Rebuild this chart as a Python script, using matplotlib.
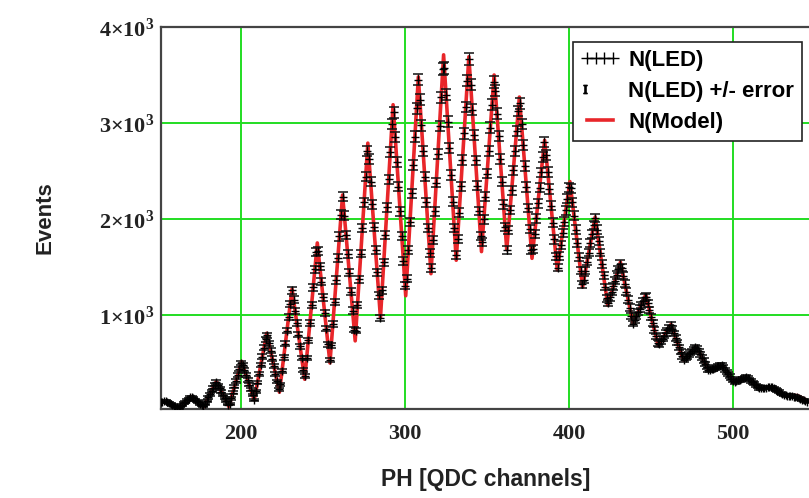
import matplotlib

matplotlib.use("Agg")
import matplotlib.pyplot as plt
import numpy as np
from matplotlib.legend_handler import HandlerBase
from matplotlib.lines import Line2D

# measured LED spectrum, one value per QDC channel starting at channel 151
first_channel = 151
led_counts = [
    90, 95, 100, 100, 91, 82, 73, 64, 55, 46,
    37, 30, 49, 64, 80, 95, 111, 127, 142, 143,
    130, 116, 102, 89, 75, 61, 48, 72, 106, 140,
    173, 207, 241, 275, 302, 268, 234, 201, 167, 133,
    99, 65, 69, 130, 191, 252, 313, 375, 436, 497,
    479, 427, 375, 323, 271, 219, 167, 115, 205, 295,
    386, 476, 566, 657, 747, 786, 706, 626, 546, 466,
    387, 307, 227, 279, 419, 558, 698, 837, 977, 1117,
    1256, 1160, 1038, 916, 794, 672, 550, 428, 367, 551,
    736, 920, 1105, 1289, 1474, 1658, 1669, 1507, 1344, 1182,
    1020, 857, 695, 533, 682, 909, 1136, 1364, 1591, 1818,
    2045, 2230, 2033, 1835, 1638, 1440, 1243, 1046, 848, 837,
    1105, 1372, 1640, 1907, 2175, 2442, 2710, 2625, 2388, 2152,
    1916, 1679, 1443, 1206, 970, 1258, 1547, 1835, 2123, 2412,
    2700, 2988, 3112, 2854, 2595, 2337, 2078, 1820, 1562, 1303,
    1378, 1674, 1970, 2266, 2562, 2858, 3154, 3450, 3240, 2974,
    2708, 2442, 2175, 1909, 1643, 1489, 1785, 2081, 2377, 2673,
    2969, 3266, 3562, 3571, 3293, 3015, 2737, 2459, 2181, 1903,
    1626, 1790, 2065, 2341, 2616, 2891, 3167, 3442, 3664, 3400,
    3137, 2873, 2610, 2346, 2082, 1819, 1756, 1995, 2234, 2473,
    2712, 2951, 3190, 3428, 3335, 3098, 2862, 2625, 2389, 2153,
    1916, 1680, 1887, 2093, 2300, 2506, 2713, 2919, 3126, 3205,
    2987, 2769, 2551, 2332, 2114, 1896, 1678, 1686, 1846, 2005,
    2165, 2325, 2485, 2644, 2804, 2662, 2487, 2312, 2136, 1961,
    1786, 1610, 1494, 1613, 1733, 1852, 1972, 2091, 2211, 2330,
    2319, 2176, 2033, 1890, 1747, 1604, 1461, 1319, 1366, 1461,
    1556, 1650, 1745, 1840, 1935, 2008, 1889, 1769, 1650, 1530,
    1411, 1291, 1172, 1123, 1182, 1240, 1299, 1357, 1416, 1474,
    1532, 1492, 1409, 1326, 1243, 1160, 1077, 993, 910, 949,
    988, 1027, 1066, 1105, 1144, 1183, 1189, 1120, 1052, 983,
    914, 845, 776, 708, 697, 726, 754, 783, 811, 840,
    869, 897, 857, 809, 761, 713, 665, 617, 569, 534,
    552, 570, 589, 607, 625, 643, 661, 654, 621, 589,
    556, 524, 491, 459, 426, 426, 434, 441, 449, 457,
    465, 473, 478, 454, 431, 408, 384, 361, 337, 314,
    303, 310, 317, 324, 332, 339, 346, 353, 344, 329,
    313, 297, 282, 266, 251, 235, 237, 239, 241, 243,
    245, 247, 249, 246, 235, 223, 211, 200, 188, 176,
    165, 165, 160, 158, 160, 155, 150, 148, 145, 135,
    125, 118, 110, 102, 95,
]

# fitted model, peak and valley nodes
model_ch = [
    151, 154.1, 161.8, 169.5, 177.2, 184.9, 192.6, 200.3, 208.0, 215.7,
    223.4, 231.1, 238.8, 246.5, 254.2, 261.9, 269.6, 277.3, 285.0, 292.7,
    300.4, 308.1, 315.8, 323.5, 331.2, 338.9, 346.6, 354.3, 362.0, 369.7,
    377.4, 385.1, 392.8, 400.5, 408.2, 415.9, 423.6, 431.3, 439.0, 446.7,
    454.4, 462.1, 469.8, 477.5, 485.2, 492.9, 500.6, 508.3, 516.0, 523.7,
    531.4, 539.1, 546.8,
]
model_val = [
    90, 100, 30, 150, 45, 305, 45, 515, 115, 810,
    195, 1270, 330, 1750, 500, 2250, 730, 2790, 970, 3190,
    1200, 3480, 1430, 3710, 1570, 3690, 1660, 3500, 1680, 3270,
    1590, 2820, 1470, 2390, 1290, 2020, 1100, 1550, 910, 1210,
    680, 900, 530, 670, 420, 480, 300, 355, 235, 250,
    160, 160, 95,
]

x_ticks = [200, 300, 400, 500]
y_ticks = [1000, 2000, 3000, 4000]
y_tick_labels = [r"$\mathbf{1{\times}10^{3}}$", r"$\mathbf{2{\times}10^{3}}$",
                 r"$\mathbf{3{\times}10^{3}}$", r"$\mathbf{4{\times}10^{3}}$"]

RED = "#e8262a"

plt.rcParams["mathtext.fontset"] = "custom"
plt.rcParams["mathtext.rm"] = "Liberation Serif"
plt.rcParams["mathtext.bf"] = "Liberation Serif:bold"


class HandlerLeftMarker(HandlerBase):
    # single marker at the left end of the legend handle box
    def create_artists(self, legend, orig_handle, xdescent, ydescent,
                       width, height, fontsize, trans):
        mark = Line2D([-xdescent + 3], [(height - ydescent) / 2], ls="none",
                      marker=orig_handle.get_marker(),
                      markersize=orig_handle.get_markersize(),
                      color=orig_handle.get_color(), transform=trans)
        return [mark]


counts = np.array(led_counts, dtype=float)
channels = np.arange(first_channel, first_channel + len(counts))
errors = np.sqrt(counts)

fig = plt.figure(figsize=(8.09, 4.98), dpi=100)
ax = fig.add_axes([161 / 809, 1 - 409 / 498, 650 / 809, 382 / 498])

ax.plot(channels, counts, color="black", lw=0.8, zorder=2)
ax.plot(model_ch, model_val, color=RED, lw=2.6, zorder=3)
ax.errorbar(channels, counts, yerr=errors, fmt="none", ecolor="#111111",
            elinewidth=0.8, capsize=3.4, capthick=1.1, zorder=4)
ax.plot(channels, counts, ls="none", marker="+", color="black",
        markersize=6, markeredgewidth=1.0, zorder=4)

ax.set_xlim(151.2, 547.5)
ax.set_ylim(20, 4000)
ax.set_xticks(x_ticks)
ax.set_xticklabels([str(t) for t in x_ticks], fontfamily="Liberation Serif",
                   fontweight="bold", fontsize=16, color="#222222")
ax.set_yticks(y_ticks)
ax.set_yticklabels(y_tick_labels, fontsize=16, color="#222222")
ax.tick_params(axis="both", length=0)
ax.tick_params(axis="x", pad=11)
ax.tick_params(axis="y", pad=5)
ax.grid(True, color="#22dd22", lw=1.4)
ax.set_axisbelow(True)
for side in ["left", "bottom", "top", "right"]:
    ax.spines[side].set_color("#444444")
    ax.spines[side].set_linewidth(1.6)

ax.set_xlabel("PH [QDC channels]", fontfamily="Liberation Sans",
              fontweight="bold", fontsize=16.5, color="#222222")
ax.xaxis.set_label_coords(0.5, -0.155)
ax.set_ylabel("Events", fontfamily="Liberation Sans", fontweight="bold",
              fontsize=16, color="#222222")
ax.yaxis.set_label_coords(-0.162, 0.5)

led_handle = Line2D([], [], color="black", lw=1, marker="+", markersize=8,
                    markeredgewidth=1.0)
err_handle = Line2D([], [], ls="none", color="black", marker=r"$\mathrm{I}$",
                    markersize=6)
model_handle = Line2D([], [], color=RED, lw=2.6)
leg = ax.legend(
    [led_handle, err_handle, model_handle],
    ["N(LED)", "N(LED) +/- error", "N(Model)"],
    loc="upper right",
    bbox_to_anchor=(802 / 809, 1 - 42 / 498),
    bbox_transform=fig.transFigure,
    borderaxespad=0,
    numpoints=4,
    handlelength=1.75,
    handletextpad=0.4,
    labelspacing=0.45,
    borderpad=0.35,
    fancybox=False,
    framealpha=1,
    handler_map={err_handle: HandlerLeftMarker()},
    prop={"family": "Liberation Sans", "weight": "bold", "size": 16},
)
leg.get_frame().set_edgecolor("#222222")
leg.get_frame().set_linewidth(1.2)

fig.savefig("out.png", dpi=100)
